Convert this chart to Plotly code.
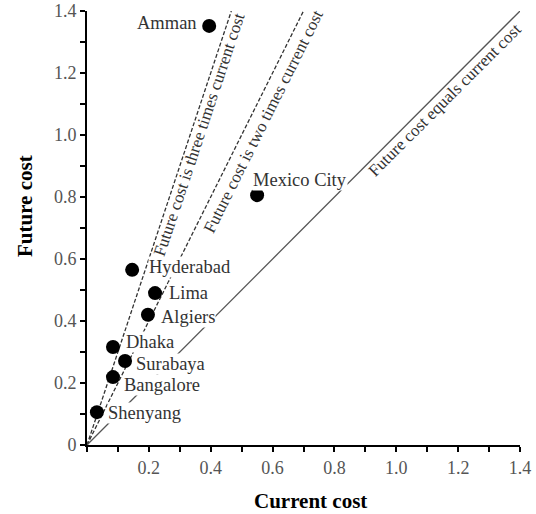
import math
import plotly.graph_objects as go

cities = ["Amman", "Mexico City", "Hyderabad", "Lima", "Algiers", "Dhaka", "Surabaya", "Bangalore", "Shenyang"]
current_cost = [0.395, 0.55, 0.146, 0.22, 0.197, 0.084, 0.123, 0.084, 0.032]
future_cost = [1.352, 0.806, 0.565, 0.49, 0.42, 0.316, 0.271, 0.219, 0.106]

multipliers = [3, 2, 1]
line_labels = ["Future cost is three times current cost",
               "Future cost is two times current cost",
               "Future cost equals current cost"]

axis_max = 1.4
tick_vals = [round(0.1 * i, 1) for i in range(15)]
x_tick_text = ["" if (i % 2 or i == 0) else f"{0.1*i:.1f}" for i in range(15)]
y_tick_text = ["0" if i == 0 else ("" if i % 2 else f"{0.1*i:.1f}") for i in range(15)]

FONT = "Liberation Serif"
fig = go.Figure()

dashes = ["4px,2px", "4px,2px", "solid"]
for m, d in zip(multipliers, dashes):
    fig.add_trace(go.Scatter(x=[0, axis_max / m], y=[0, axis_max], mode="lines",
                             line=dict(color="#333" if d != "solid" else "#555", width=1.3, dash=d),
                             hoverinfo="skip", showlegend=False))

fig.add_trace(go.Scatter(x=current_cost, y=future_cost, mode="markers",
                         marker=dict(size=14, color="black"), cliponaxis=False,
                         text=cities, showlegend=False))

label_pos = {
    "Amman": (0.36, 1.36, "right"),
    "Mexico City": (0.533, 0.855, "left"),
    "Hyderabad": (0.197, 0.574, "left"),
    "Lima": (0.262, 0.49, "left"),
    "Algiers": (0.236, 0.413, "left"),
    "Dhaka": (0.123, 0.332, "left"),
    "Surabaya": (0.155, 0.261, "left"),
    "Bangalore": (0.116, 0.194, "left"),
    "Shenyang": (0.065, 0.103, "left"),
}
for c in cities:
    lx, ly, anc = label_pos[c]
    fig.add_annotation(x=lx, y=ly, text=c, showarrow=False, xanchor=anc, yanchor="middle",
                       font=dict(family=FONT, size=18.5, color="#333"),
                       bgcolor="white", borderpad=0)

line_label_pos = [(0.362, 1.003), (0.570, 1.044), (1.159, 1.113)]
for m, t, (lx, ly) in zip(multipliers, line_labels, line_label_pos):
    ang = math.degrees(math.atan(m))
    fig.add_annotation(x=lx, y=ly, text=t, showarrow=False, textangle=-ang,
                       xanchor="center", yanchor="middle",
                       font=dict(family=FONT, size=17, color="#333"))

fig.add_annotation(xref="paper", yref="paper", x=(310 - 87) / 433, y=(445 - 501) / 434,
                   text="<b>Current cost</b>", showarrow=False,
                   xanchor="center", yanchor="middle",
                   font=dict(family=FONT, size=21, color="black"))
fig.add_annotation(xref="paper", yref="paper", x=(25 - 87) / 433, y=(445 - 206) / 434,
                   text="<b>Future cost</b>", showarrow=False, textangle=-90,
                   xanchor="center", yanchor="middle",
                   font=dict(family=FONT, size=21, color="black"))

axis_common = dict(range=[0, axis_max], tickvals=tick_vals, ticks="outside", ticklen=5,
                   tickwidth=1.5, tickcolor="black", showline=True, linecolor="black",
                   linewidth=2, showgrid=False, zeroline=False, automargin=False,
                   tickfont=dict(family=FONT, size=18, color="#555"))
fig.update_xaxes(ticktext=x_tick_text, **axis_common)
fig.update_yaxes(ticktext=y_tick_text, **axis_common)

fig.update_layout(width=536, height=514, margin=dict(l=87, r=16, t=11, b=69, autoexpand=False),
                  plot_bgcolor="white", paper_bgcolor="white", showlegend=False)

fig.write_html("out.html", config={"displayModeBar": False},
               post_script="document.body.style.margin='0';")
